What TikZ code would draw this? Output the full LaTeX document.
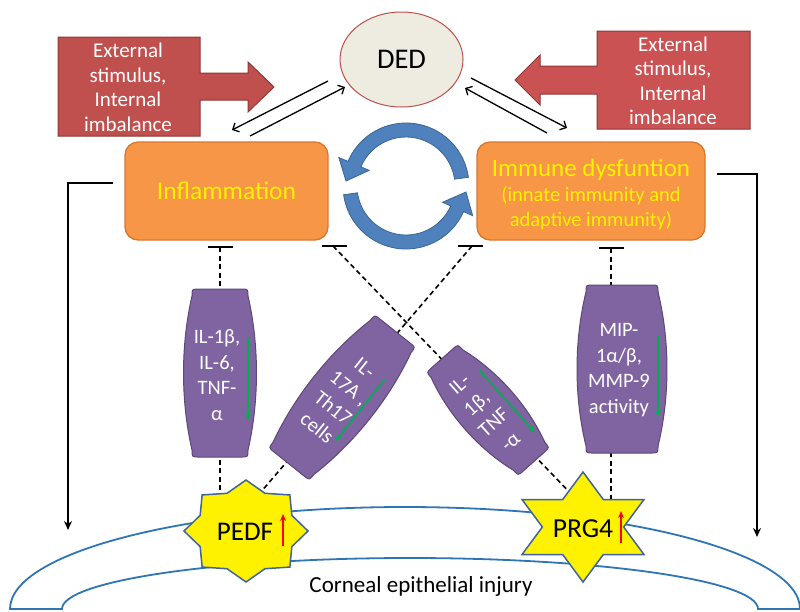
\documentclass[tikz,border=0pt]{standalone}
\usepackage{fontspec}
\setmainfont{Carlito}
\usetikzlibrary{shapes.geometric,arrows.meta,calc}
\pgfdeclarelayer{bg}
\pgfsetlayers{bg,main}
\definecolor{redA}{HTML}{C0504D}
\definecolor{redB}{HTML}{8C3836}
\definecolor{redC}{HTML}{CB5252}
\definecolor{orangeA}{HTML}{F79646}
\definecolor{orangeB}{HTML}{D9772F}
\definecolor{purpleA}{HTML}{8064A2}
\definecolor{purpleB}{HTML}{5C4776}
\definecolor{greenA}{HTML}{00B050}
\definecolor{blueA}{HTML}{4F81BD}
\definecolor{blueB}{HTML}{3A6596}
\definecolor{starB}{HTML}{41639B}
\definecolor{corneaA}{HTML}{2E75B6}
\definecolor{dedfill}{HTML}{EEECE1}
\newcommand\purplebarrel[6]{%
\begin{scope}[shift={(#1,#2)},rotate=#3]
\draw[purplebox] (-#4,-#5+7) .. controls (-#4,-#5) .. (-#4+7,-#5) -- (#4-7,-#5) .. controls (#4,-#5) .. (#4,-#5+7) .. controls ({#4+1.33*#6},{-#5/3}) and ({#4+1.33*#6},{#5/3}) .. (#4,#5-7) .. controls (#4,#5) .. (#4-7,#5) -- (-#4+7,#5) .. controls (-#4,#5) .. (-#4,#5-7) .. controls ({-#4-1.33*#6},{#5/3}) and ({-#4-1.33*#6},{-#5/3}) .. cycle;
\end{scope}}
\begin{document}
\begin{tikzpicture}[x=1pt,y=-1pt,
  redblock/.style={fill=redA, draw=redB, line width=1pt},
  exttext/.style={text=white, align=center, font=\fontsize{21}{24.5}\selectfont, inner sep=0pt},
  orangebox/.style={rectangle, rounded corners=13pt, fill=orangeA, draw=orangeB, line width=1.3pt, inner sep=0pt, text=yellow, align=center},
  purplebox/.style={fill=purpleA, draw=purpleB, line width=1pt},
  purpletext/.style={text=white, align=center, font=\fontsize{20.5}{25.5}\selectfont, inner sep=0pt},
  greenarrow/.style={draw=greenA, line width=1.6pt, -{Stealth[length=7pt,width=6pt]}},
  redup/.style={draw=red, line width=1.8pt, -{Stealth[length=7pt,width=6pt]}},
  dashline/.style={line width=1.6pt, dash pattern=on 5pt off 3.5pt},
  teebar/.style={line width=1.6pt},
  blackarrow/.style={line width=1.6pt, -{Stealth[length=9pt,width=8pt]}},
  thinarrow/.style={line width=1.3pt, -{Straight Barb[length=5pt,width=10pt]}},
  blueband/.style={fill=blueA, draw=blueB, line width=0.8pt},
  starshape/.style={star, fill=yellow, draw=starB, line width=1.5pt, inner sep=0pt},
  cornea/.style={draw=corneaA, line width=1.8pt}
]
\useasboundingbox (0,0) rectangle (800,611);

% DED
\node[ellipse, fill=dedfill, draw=redA, line width=1pt, minimum width=123pt, minimum height=95pt, font=\fontsize{28.5}{30}\selectfont] (ded) at (401.5,59.5) {DED};

% red block arrows
\draw[redblock] (58,37) -- (200,37) -- (200,73) -- (248,73) -- (248,62) -- (274,87) -- (248,112) -- (248,100) -- (200,100) -- (200,136) -- (58,136) -- cycle;
\node[exttext] (ext1) at (128,87.5) {External\\stimulus,\\Internal\\imbalance};
\draw[redblock, fill=redC] (750,31) -- (597,31) -- (597,66) -- (540,66) -- (540,55) -- (515,80) -- (540,105) -- (540,94) -- (597,94) -- (597,129) -- (750,129) -- cycle;
\node[exttext] (ext2) at (673,81) {External\\stimulus,\\Internal\\imbalance};

% orange boxes
\node[orangebox, minimum width=203pt, minimum height=98pt, font=\fontsize{25.5}{28}\selectfont] (infl) at (226.5,191) {Inflammation};
\node[orangebox, minimum width=228pt, minimum height=98pt, font=\fontsize{20.5}{24}\selectfont] (immune) at (591,191) {};
\node[text=yellow, align=center, inner sep=0pt, font=\fontsize{20.5}{24}\selectfont] (immunetext) at (591,194) {{\fontsize{25}{27}\selectfont Immune dysfuntion}\\[1pt](innate immunity and\\[1pt]adaptive immunity)};

% double arrows
\coordinate (la1) at (328,81); \coordinate (la2) at (232,130);
\coordinate (lb1) at (250,136); \coordinate (lb2) at (345,87);
\coordinate (ra1) at (471,78); \coordinate (ra2) at (567,128);
\coordinate (rb1) at (547,133); \coordinate (rb2) at (465,88);
\draw[thinarrow] (la1) -- (la2);
\draw[thinarrow] (lb1) -- (lb2);
\draw[thinarrow] (ra1) -- (ra2);
\draw[thinarrow] (rb1) -- (rb2);

% circular arrows
\coordinate (cc) at (406,186);
\draw[blueband] ($(cc)+(-8:63)$) arc[start angle=-8, end angle=-157, radius=63] -- ($(cc)+(-157:73)$) -- (346,181) -- ($(cc)+(-157:40)$) -- ($(cc)+(-157:49)$) arc[start angle=-157, end angle=-8, radius=49] -- cycle;
\draw[blueband] ($(cc)+(172:63)$) arc[start angle=172, end angle=24, radius=63] -- ($(cc)+(24:73)$) -- (466,192) -- ($(cc)+(24:40)$) -- ($(cc)+(24:49)$) arc[start angle=24, end angle=172, radius=49] -- cycle;

% L connectors
\coordinate (lstart) at (113,183); \coordinate (lend) at (68,530);
\coordinate (rstart) at (717,174); \coordinate (rend) at (757,537);
\draw[blackarrow] (lstart) -| (lend);
\draw[blackarrow] (rstart) -| (rend);

% cornea band
\draw[cornea] (10,609) arc[start angle=180, end angle=360, x radius=395, y radius=102] -- (758,609) arc[start angle=0, end angle=-180, x radius=348, y radius=51] -- cycle;
\node[font=\fontsize{23}{26}\selectfont] (cornealtext) at (421,586) {Corneal epithelial injury};

% stars
\node[starshape, star points=8, star point ratio=1.25, minimum size=102pt, xscale=1.216] (pedfstar) at (246,531) {};
\node[font=\fontsize{27}{28}\selectfont, inner sep=0pt] (pedf) at (245,532) {PEDF};
\draw[redup] (283,546) -- (283,514);
\node[starshape, star points=6, star point ratio=1.732, minimum size=110pt, xscale=1.28] (prg4star) at (583,527) {};
\node[font=\fontsize{27.5}{28}\selectfont, inner sep=0pt] (prg4) at (583,529) {PRG4};
\draw[redup] (621,543) -- (621,511);

% purple barrels
\coordinate (b1) at (220,373);
\coordinate (b2) at (342,397.5);
\coordinate (b3) at (488,410);
\coordinate (b4) at (622,369);
\purplebarrel{220}{373}{0}{28}{84}{8.5}
\purplebarrel{342}{397.5}{-38.6}{26}{85}{9}
\purplebarrel{488}{410}{41.6}{21}{69}{9}
\purplebarrel{622}{369}{0}{36}{84}{9}
\node[purpletext] (b1t) at (217,375) {IL-1β,\\IL-6,\\TNF-\\α};
\node[purpletext, rotate=-38.6] (b2t) at (341,398) {IL-\\17A ,\\Th17\\cells};
\node[purpletext, rotate=41.6] (b3t) at (485,413) {IL-\\1β,\\TNF\\-α};
\node[purpletext] (b4t) at (619,370) {MIP-\\1α/β,\\MMP-9\\activity};
\begin{scope}[shift={(b1)}] \draw[greenarrow] (28,-36) -- (28,47); \end{scope}
\begin{scope}[shift={(b4)}] \draw[greenarrow] (36,-34) -- (36,48); \end{scope}
\begin{scope}[shift={(b2)},rotate=-38.6] \draw[greenarrow] (22,-41) -- (22,38); \end{scope}
\begin{scope}[shift={(b3)},rotate=41.6] \draw[greenarrow] (20,-35) -- (20,48); \end{scope}

% tees and dashed lines
\coordinate (t1) at (220,247);
\coordinate (t2) at (333,246);
\coordinate (t3) at (472,246);
\coordinate (t4) at (611,248);
\coordinate (aend) at (575,498);
\coordinate (bend) at (254,500);
\foreach \t/\c in {t1/0,t2/1,t3/-2,t4/0}{\draw[teebar] ($(\t)+(-12.5+\c,0)$) -- ($(\t)+(12.5+\c,0)$);}
\begin{pgfonlayer}{bg}
\draw[dashline] (t1) -- (b1) -- (b1 |- pedfstar.center);
\draw[dashline] (t4) -- (t4 |- prg4star.center);
\draw[dashline] (t2) -- (aend);
\draw[dashline] (t3) -- (b2) -- (bend);
\end{pgfonlayer}
\end{tikzpicture}
\end{document}
